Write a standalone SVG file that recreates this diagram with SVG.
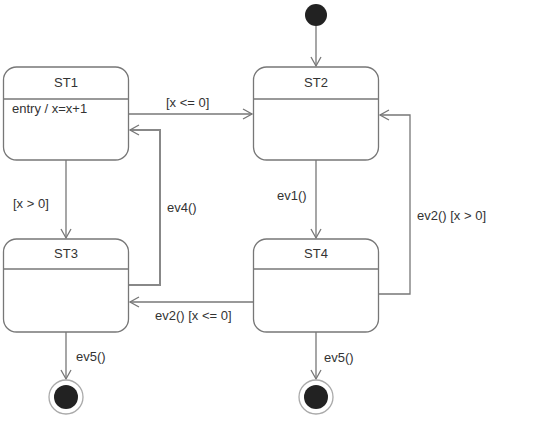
<svg xmlns="http://www.w3.org/2000/svg" width="543" height="434" viewBox="0 0 543 434">
<defs>
<style>
text{font-family:"Liberation Sans",Arial,sans-serif;font-size:13px;fill:#333}
.st{fill:#fff;stroke:#777;stroke-width:1.3}
.dv{stroke:#777;stroke-width:1.3}
.c{fill:none;stroke:#777;stroke-width:1.3}
.ck{fill:none;stroke:#888;stroke-width:2}
.mid{text-anchor:middle}
</style>
<marker id="a" markerWidth="12" markerHeight="12" refX="10" refY="6" orient="auto" markerUnits="userSpaceOnUse">
<path d="M1,1 L10,6 L1,11" fill="none" stroke="#777" stroke-width="1.3"/>
</marker>
</defs>
<rect width="543" height="434" fill="#fff"/>
<g id="connectors">
<path class="c" d="M316,26 V66" marker-end="url(#a)"/>
<path class="c" d="M129,114 H252" marker-end="url(#a)"/>
<path class="c" d="M66,160 V238" marker-end="url(#a)"/>
<path class="c" d="M316,160 V238" marker-end="url(#a)"/>
<path class="ck" d="M129,285 H160 V130 H130" marker-end="url(#a)"/>
<path class="c" d="M378,294 H410 V115 H380" marker-end="url(#a)"/>
<path class="c" d="M253,302 H130" marker-end="url(#a)"/>
<path class="c" d="M66,332 V379" marker-end="url(#a)"/>
<path class="c" d="M316,332 V379" marker-end="url(#a)"/>
<text x="166" y="107">[x &lt;= 0]</text>
<text x="13" y="208">[x &gt; 0]</text>
<text x="167" y="212">ev4()</text>
<text x="277" y="200">ev1()</text>
<text x="417" y="220">ev2() [x &gt; 0]</text>
<text x="155" y="320">ev2() [x &lt;= 0]</text>
<text x="76" y="361">ev5()</text>
<text x="324" y="362">ev5()</text>
</g>
<g id="initial">
<circle cx="316" cy="15" r="11" fill="#222"/>
</g>
<g id="ST1">
<rect class="st" x="3.5" y="67" width="125" height="93" rx="13"/>
<line class="dv" x1="3.5" y1="99" x2="128.5" y2="99"/>
<text class="mid" x="66" y="87">ST1</text>
<text x="12" y="113">entry / x=x+1</text>
</g>
<g id="ST2">
<rect class="st" x="253.5" y="67" width="125" height="93" rx="13"/>
<line class="dv" x1="253.5" y1="99" x2="378.5" y2="99"/>
<text class="mid" x="316" y="87">ST2</text>
</g>
<g id="ST3">
<rect class="st" x="3.5" y="239" width="125" height="93" rx="13"/>
<line class="dv" x1="3.5" y1="269" x2="128.5" y2="269"/>
<text class="mid" x="66" y="258">ST3</text>
</g>
<g id="ST4">
<rect class="st" x="253.5" y="239" width="125" height="93" rx="13"/>
<line class="dv" x1="253.5" y1="269" x2="378.5" y2="269"/>
<text class="mid" x="316" y="258">ST4</text>
</g>
<g id="final1">
<circle cx="66" cy="397" r="17" fill="#fff" stroke="#aaa" stroke-width="1.3"/>
<circle cx="66" cy="397" r="12" fill="#222"/>
</g>
<g id="final2">
<circle cx="316" cy="397" r="17" fill="#fff" stroke="#aaa" stroke-width="1.3"/>
<circle cx="316" cy="397" r="12" fill="#222"/>
</g>
</svg>
